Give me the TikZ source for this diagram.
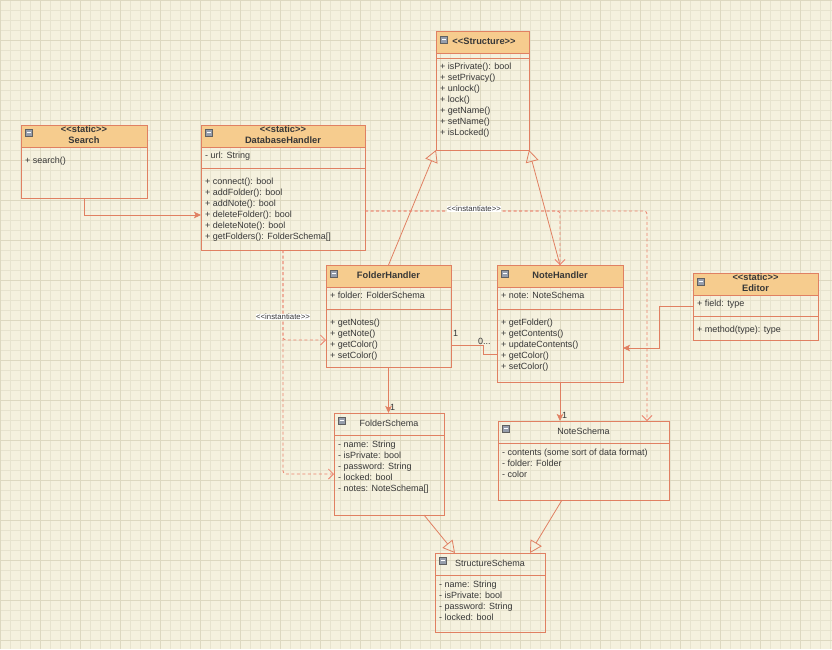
\documentclass[tikz,border=0pt]{standalone}
\usepackage{fontspec}
\setmainfont{Liberation Sans}[Ligatures=TeXOff]
\usetikzlibrary{arrows.meta,calc}

\definecolor{paper}{RGB}{245,241,222}
\definecolor{gridminor}{RGB}{231,227,206}
\definecolor{gridmajor}{RGB}{221,216,192}
\definecolor{umlline}{RGB}{224,128,98}
\definecolor{hdrfill}{RGB}{246,204,142}
\definecolor{txt}{RGB}{55,55,55}
\definecolor{dashcol}{RGB}{236,128,108}
\definecolor{iconfill}{RGB}{150,158,172}

\newcommand\umlfont{\fontsize{9pt}{10pt}\selectfont}
\newcommand\umltitlefont{\fontsize{9.3pt}{10pt}\selectfont\bfseries}
\newcommand\instfont{\fontsize{7.8pt}{9pt}\selectfont}

\tikzset{
  box/.style={draw=umlline, line width=0.8pt, anchor=north west, inner sep=0pt, outer sep=0pt},
  hdr/.style={box, fill=hdrfill},
  lbl/.style={anchor=west, inner sep=0pt, font=\umlfont, text=txt, text height=6.5pt, text depth=1.8pt},
  ttl/.style={inner sep=0pt, font=\umltitlefont, text=txt, text height=6.6pt, text depth=1.8pt},
  ttlplain/.style={inner sep=0pt, font=\umlfont, text=txt, text height=6.5pt, text depth=1.8pt},
  sepline/.style={draw=umlline, line width=0.8pt},
  icon/.style={draw=gray!75!black, fill=iconfill, line width=0.4pt, minimum size=7pt, inner sep=0pt, anchor=north west},
  conn/.style={draw=umlline, line width=0.8pt},
  inherit/.style={conn, -{Triangle[open, length=12pt, width=13pt]}},
  assoc/.style={conn, -{Stealth[length=7pt, width=6.5pt, inset=1.5pt]}},
  inst/.style={draw=dashcol, line width=0.8pt, dash pattern=on 3pt off 2.5pt, rounded corners=3pt,
               -{Straight Barb[length=5pt, width=10pt]}},
  instlbl/.style={fill=white, inner sep=0.6pt, font=\instfont, text=txt},
  mult/.style={inner sep=0pt, font=\umlfont, text=txt, anchor=west},
}

% small collapse marker in the corner of a class header
\newcommand\collapsemark[2]{%
  \node[icon] (#1) at (#2) {\textcolor{white}{\rule[0.3pt]{4.2pt}{1.1pt}}};}

\begin{document}
\begin{tikzpicture}[x=1pt, y=-1pt]
\useasboundingbox (0,0) rectangle (832,649);

% drawing paper with grid
\fill[paper] (0,0) rectangle (832,649);
\draw[gridminor, line width=0.35pt, step=10pt] (0pt,0pt) grid (832pt,-649pt);
\draw[gridmajor, line width=0.45pt, step=40pt] (0pt,0pt) grid (832pt,-649pt);

% ---------------- <<Structure>>
\node[box, minimum width=93pt, minimum height=119pt] (structure) at (436,31) {};
\node[hdr, minimum width=93pt, minimum height=22pt] (structureH) at (436,31) {};
\collapsemark{structureI}{440,36}
\node[ttl] (structureT) at (484,42) {<<Structure>>};
\draw[sepline] (436,58) -- (529,58);
\node[lbl] (structureM1) at (440,67) {+ isPrivate(): bool};
\node[lbl] (structureM2) at (440,78) {+ setPrivacy()};
\node[lbl] (structureM3) at (440,89) {+ unlock()};
\node[lbl] (structureM4) at (440,100) {+ lock()};
\node[lbl] (structureM5) at (440,111) {+ getName()};
\node[lbl] (structureM6) at (440,122) {+ setName()};
\node[lbl] (structureM7) at (440,133) {+ isLocked()};

% ---------------- Search
\node[box, minimum width=126pt, minimum height=73pt] (search) at (21,125) {};
\node[hdr, minimum width=126pt, minimum height=22pt] (searchH) at (21,125) {};
\collapsemark{searchI}{25,129}
\node[ttl] (searchS) at (84,130) {<<static>>};
\node[ttl] (searchT) at (84,141) {Search};
\node[lbl] (searchM1) at (25,161) {+ search()};

% ---------------- DatabaseHandler
\node[box, minimum width=164pt, minimum height=125pt] (db) at (201,125) {};
\node[hdr, minimum width=164pt, minimum height=22pt] (dbH) at (201,125) {};
\collapsemark{dbI}{205,129}
\node[ttl] (dbS) at (283,130) {<<static>>};
\node[ttl] (dbT) at (283,141) {DatabaseHandler};
\node[lbl] (dbA1) at (205,156) {- url: String};
\draw[sepline] (201,168) -- (365,168);
\node[lbl] (dbM1) at (205,182) {+ connect(): bool};
\node[lbl] (dbM2) at (205,193) {+ addFolder(): bool};
\node[lbl] (dbM3) at (205,204) {+ addNote(): bool};
\node[lbl] (dbM4) at (205,215) {+ deleteFolder(): bool};
\node[lbl] (dbM5) at (205,226) {+ deleteNote(): bool};
\node[lbl] (dbM6) at (205,237) {+ getFolders(): FolderSchema[]};

% ---------------- FolderHandler
\node[box, minimum width=125pt, minimum height=102pt] (fh) at (326,265) {};
\node[hdr, minimum width=125pt, minimum height=22pt] (fhH) at (326,265) {};
\collapsemark{fhI}{330,270}
\node[ttl] (fhT) at (388.5,276) {FolderHandler};
\node[lbl] (fhA1) at (330,296) {+ folder: FolderSchema};
\draw[sepline] (326,309) -- (451,309);
\node[lbl] (fhM1) at (330,323) {+ getNotes()};
\node[lbl] (fhM2) at (330,334) {+ getNote()};
\node[lbl] (fhM3) at (330,345) {+ getColor()};
\node[lbl] (fhM4) at (330,356) {+ setColor()};

% ---------------- NoteHandler
\node[box, minimum width=126pt, minimum height=117pt] (nh) at (497,265) {};
\node[hdr, minimum width=126pt, minimum height=22pt] (nhH) at (497,265) {};
\collapsemark{nhI}{501,270}
\node[ttl] (nhT) at (560,276) {NoteHandler};
\node[lbl] (nhA1) at (501,296) {+ note: NoteSchema};
\draw[sepline] (497,309) -- (623,309);
\node[lbl] (nhM1) at (501,323) {+ getFolder()};
\node[lbl] (nhM2) at (501,334) {+ getContents()};
\node[lbl] (nhM3) at (501,345) {+ updateContents()};
\node[lbl] (nhM4) at (501,356) {+ getColor()};
\node[lbl] (nhM5) at (501,367) {+ setColor()};

% ---------------- Editor
\node[box, minimum width=125pt, minimum height=67pt] (ed) at (693,273) {};
\node[hdr, minimum width=125pt, minimum height=22pt] (edH) at (693,273) {};
\collapsemark{edI}{697,278}
\node[ttl] (edS) at (755.5,278) {<<static>>};
\node[ttl] (edT) at (755.5,289) {Editor};
\node[lbl] (edA1) at (697,304) {+ field: type};
\draw[sepline] (693,316) -- (818,316);
\node[lbl] (edM1) at (697,330) {+ method(type): type};

% ---------------- FolderSchema
\node[box, minimum width=110pt, minimum height=102pt] (fs) at (334,413) {};
\draw[sepline] (334,435) -- (444,435);
\collapsemark{fsI}{338,417}
\node[ttlplain] (fsT) at (389,424) {FolderSchema};
\node[lbl] (fsA1) at (338,445) {- name: String};
\node[lbl] (fsA2) at (338,456) {- isPrivate: bool};
\node[lbl] (fsA3) at (338,467) {- password: String};
\node[lbl] (fsA4) at (338,478) {- locked: bool};
\node[lbl] (fsA5) at (338,489) {- notes: NoteSchema[]};

% ---------------- NoteSchema
\node[box, minimum width=171pt, minimum height=79pt] (ns) at (498,421) {};
\draw[sepline] (498,443) -- (669,443);
\collapsemark{nsI}{502,425}
\node[ttlplain] (nsT) at (583.5,432) {NoteSchema};
\node[lbl] (nsA1) at (502,453) {- contents (some sort of data format)};
\node[lbl] (nsA2) at (502,464) {- folder: Folder};
\node[lbl] (nsA3) at (502,475) {- color};

% ---------------- StructureSchema
\node[box, minimum width=110pt, minimum height=79pt] (ss) at (435,553) {};
\draw[sepline] (435,575) -- (545,575);
\collapsemark{ssI}{439,557}
\node[ttlplain] (ssT) at (490,564) {StructureSchema};
\node[lbl] (ssA1) at (439,585) {- name: String};
\node[lbl] (ssA2) at (439,596) {- isPrivate: bool};
\node[lbl] (ssA3) at (439,607) {- password: String};
\node[lbl] (ssA4) at (439,618) {- locked: bool};

% ================= connectors
% Search uses DatabaseHandler
\draw[assoc] (search.south) |- ($(db.north west)+(0,90)$);

% handlers realise <<Structure>>
\draw[inherit] (fh.north) -- (structure.south west);
\draw[inherit] (nh.north) -- (structure.south east);

% DatabaseHandler instantiates the handlers and schemas
\draw[inst] ($(db.north east)+(0,86)$) -| (nh.north);
\draw[inst] ($(db.north east)+(0,86)$) -| ($(ns.north west)+(149,0)$);
\node[instlbl] (instTop) at (474,209) {<<instantiate>>};
\draw[inst] (db.south) |- ($(fh.north west)+(0,75)$);
\draw[inst] (db.south) |- ($(fs.north west)+(0,61)$);
\node[instlbl] (instLeft) at (283,317) {<<instantiate>>};

% handlers own their schemas
\draw[assoc] (fh.south) -- (fh.south |- fs.north);
\node[mult] (fhMult) at (390,407) {1};
\draw[assoc] (nh.south) -- (nh.south |- ns.north);
\node[mult] (nhMult) at (562,415) {1};

% FolderHandler -- NoteHandler association
\draw[conn] ($(fh.north east)+(0,80)$) -- ++(32,0) |- ($(nh.north west)+(0,89)$);
\node[mult] (fhnh1) at (453,333) {1};
\node[mult] (fhnh2) at (478,341) {0...};

% Editor uses NoteHandler
\draw[assoc] (ed.west) -- ++(-34,0) |- ($(nh.north east)+(0,83)$);

% schemas specialise StructureSchema
\draw[inherit] ($(fs.south west)+(90,0)$) -- ($(ss.north west)+(20,0)$);
\draw[inherit] ($(ns.south west)+(64,0)$) -- ($(ss.north west)+(95,0)$);
\end{tikzpicture}
\end{document}
